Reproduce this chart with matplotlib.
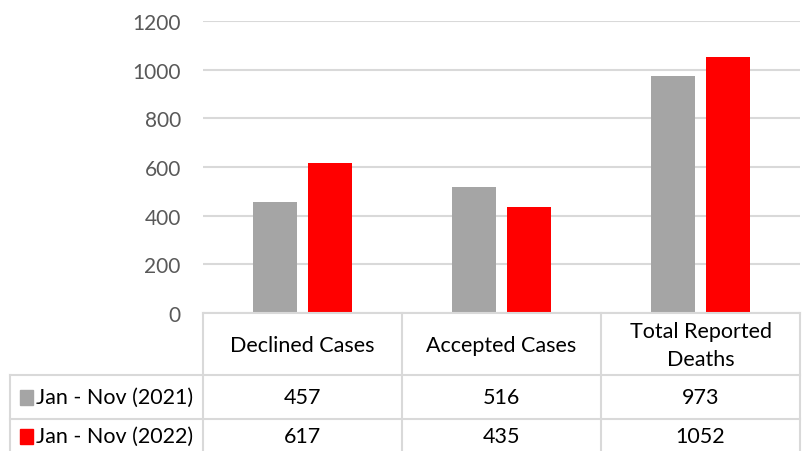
import matplotlib.pyplot as plt
import numpy as np
from matplotlib.lines import Line2D
from matplotlib.patches import Rectangle

# data
categories = ['Declined Cases', 'Accepted Cases', 'Total Reported\nDeaths']
series_names = ['Jan - Nov (2021)', 'Jan - Nov (2022)']
values_2021 = [457, 516, 973]
values_2022 = [617, 435, 1052]
colors = ['#a5a5a5', '#ff0000']

plt.rcParams['font.family'] = ['Lato', 'DejaVu Sans']

W, H = 805, 452
fig = plt.figure(figsize=(W / 100, H / 100), dpi=100)

def fx(px):
    return px / W

def fy(py):
    return 1 - py / H

left, right, top, bottom = 203, 800, 22, 314
ax = fig.add_axes([fx(left), fy(bottom), fx(right) - fx(left), fy(top) - fy(bottom)])

x = np.arange(len(categories))
bw = 0.22
gap = 0.06
ax.bar(x - (bw + gap) / 2, values_2021, bw, color=colors[0], zorder=3)
ax.bar(x + (bw + gap) / 2, values_2022, bw, color=colors[1], zorder=3)

ax.set_xlim(-0.5, len(categories) - 0.5)
ax.set_ylim(0, 1200)
ax.set_yticks(range(0, 1201, 200))
ax.tick_params(axis='y', length=0, pad=16, labelsize=15, labelcolor='#595959')
ax.set_xticks([])
ax.yaxis.grid(True, color='#d9d9d9', linewidth=1.5, zorder=0)
for s in ['top', 'right', 'left', 'bottom']:
    ax.spines[s].set_visible(False)

# data table below the plot
line_c = '#d9d9d9'
col_edges = [left + i * (right - left) / 3 for i in range(4)]
row_y = [398, 437]

def hline(y, x0, x1):
    fig.add_artist(Line2D([fx(x0), fx(x1)], [fy(y), fy(y)], color=line_c, lw=1.5))

def vline(xp, y0, y1):
    fig.add_artist(Line2D([fx(xp), fx(xp)], [fy(y0), fy(y1)], color=line_c, lw=1.5))

hline(314, left, right)
hline(376, 10, right)
hline(420, 10, right)
for xe in col_edges:
    vline(xe, 314, 452)
vline(10, 376, 452)

for i, cat in enumerate(categories):
    cx = (col_edges[i] + col_edges[i + 1]) / 2
    fig.text(fx(cx), fy(346), cat, ha='center', va='center', fontsize=15.5,
             color='#000000', linespacing=1.5)

rows = [values_2021, values_2022]
for r, (name, vals) in enumerate(zip(series_names, rows)):
    cy = row_y[r]
    fig.add_artist(Rectangle((fx(20), fy(cy + 8)), fx(13), 15 / H,
                             color=colors[r], transform=fig.transFigure))
    fig.text(fx(36), fy(cy), name, ha='left', va='center', fontsize=15.5)
    for i, v in enumerate(vals):
        cx = (col_edges[i] + col_edges[i + 1]) / 2
        fig.text(fx(cx), fy(cy), str(v), ha='center', va='center', fontsize=15.5)

fig.savefig('out.png', dpi=100)
